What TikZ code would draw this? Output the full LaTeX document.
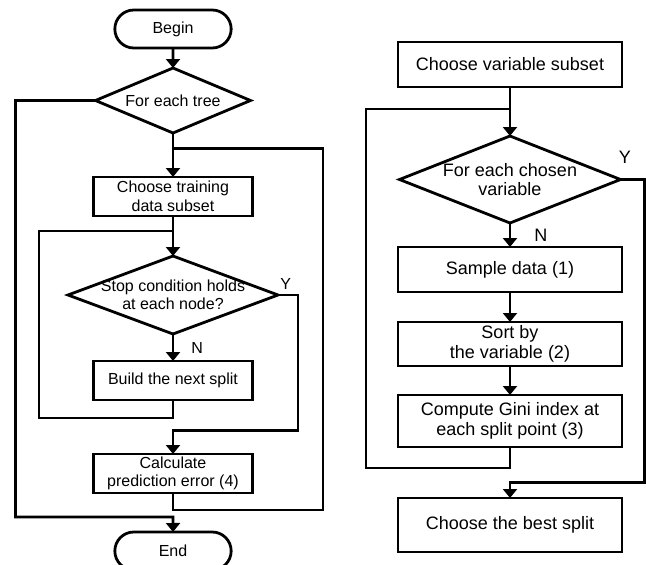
\documentclass[tikz,border=0pt]{standalone}
\usepackage{fontspec}
\setmainfont{Liberation Sans}
\usetikzlibrary{shapes, arrows.meta, positioning, calc}
\newcommand{\lsize}{\fontsize{16}{18.5}\selectfont}
\newcommand{\rsize}{\fontsize{18}{19.5}\selectfont}
\tikzset{block/.style={draw, rectangle, line width=2.8pt, outer sep=0pt, minimum width=159pt, minimum height=39pt, align=center, inner sep=2pt},
         term/.style={draw, rounded rectangle, line width=2.8pt, outer sep=0pt, minimum width=123pt, minimum height=38pt},
         cond/.style={draw, diamond, line width=2.8pt, outer sep=0pt, inner sep=0pt},
         yn/.style={inner sep=1pt},
         >={Triangle[width=14pt,length=9pt]}}

\begin{document}
\begin{tikzpicture}[x=1pt, y=-1pt, line width=2.8pt, auto]
    \useasboundingbox (0,0) rectangle (646,565);

    % left chart: one tree per pass
    \begin{scope}[every node/.append style={font=\lsize}]
        \node[term] (begin) at (173,29) {Begin};
        \node[cond, minimum width=155pt, minimum height=65pt, below=20pt of begin,
              label={center:For each tree}] (tree) {};
        \node[block, below=44pt of tree] (train) {Choose training\\data subset};
        \node[cond, minimum width=210pt, minimum height=78pt, below=40pt of train,
              label={[align=center]center:Stop condition holds\\at each node?}] (stop) {};
        \node[block, below=27pt of stop] (build) {Build the next split};
        \node[block, below=54pt of build] (calc) {Calculate\\prediction error (4)};
        \node[term, below=39pt of calc] (finish) {End};

        \coordinate (treeloop) at ($(tree.south)!0.36!(train.north)$);
        \coordinate (stoploop) at ($(train.south)!0.375!(stop.north)$);
        \coordinate (calcloop) at ($(build.south)!0.57!(calc.north)$);
        \coordinate (endloop) at ($(calc.south)!0.615!(finish.north)$);

        \draw[->] (begin) -- (tree);
        \draw[->] (tree) -- (train);
        \draw[->] (train) -- (stop);
        \draw[->] (stop) -- node[yn, right=16pt] {N} (build);
        \draw (build.south) -- ++(0,18) -| ($(stoploop)+(-134,0)$) -- (stoploop);
        \draw[->] (stop.east) -- node[yn, pos=0, anchor=south west, yshift=3pt] {Y} ++(20,0)
            |- (calcloop) -- (calc);
        \draw (calc.south) -- ++(0,17) -| ($(treeloop)+(150,0)$) -- (treeloop);
        \draw[->] (tree.west) -- ++(-80,0) |- (endloop) -- (finish);
    \end{scope}

    % right chart: finding one split
    \begin{scope}[every node/.append style={font=\rsize}]
        \node[block, minimum width=224pt, minimum height=45pt] (vsub) at (510,64.5) {Choose variable subset};
        \node[cond, minimum width=221pt, minimum height=87pt, below=49pt of vsub,
              label={[align=center]center:For each chosen\\variable}] (each) {};
        \node[block, minimum width=224pt, minimum height=45pt, below=24pt of each] (sample) {Sample data (1)};
        \node[block, minimum width=224pt, minimum height=44pt, below=30pt of sample] (sort) {Sort by\\the variable (2)};
        \node[block, minimum width=224pt, minimum height=52pt, below=29pt of sort] (gini) {Compute Gini index at\\each split point (3)};
        \node[block, minimum width=224pt, minimum height=54pt, below=51pt of gini] (best) {Choose the best split};

        \coordinate (eachloop) at ($(vsub.south)!0.45!(each.north)$);
        \coordinate (bestloop) at ($(gini.south)!0.7!(best.north)$);

        \draw[->] (vsub) -- (each);
        \draw[->] (each) -- node[yn, right=22pt] {N} (sample);
        \draw[->] (sample) -- (sort);
        \draw[->] (sort) -- (gini);
        \draw (gini.south) -- ++(0,21) -| ($(eachloop)+(-144,0)$) -- (eachloop);
        \draw[->] (each.east) -- node[yn, pos=0, anchor=south west, xshift=-4pt, yshift=14pt] {Y} ++(24,0)
            |- (bestloop) -- (best);
    \end{scope}
\end{tikzpicture}
\end{document}
